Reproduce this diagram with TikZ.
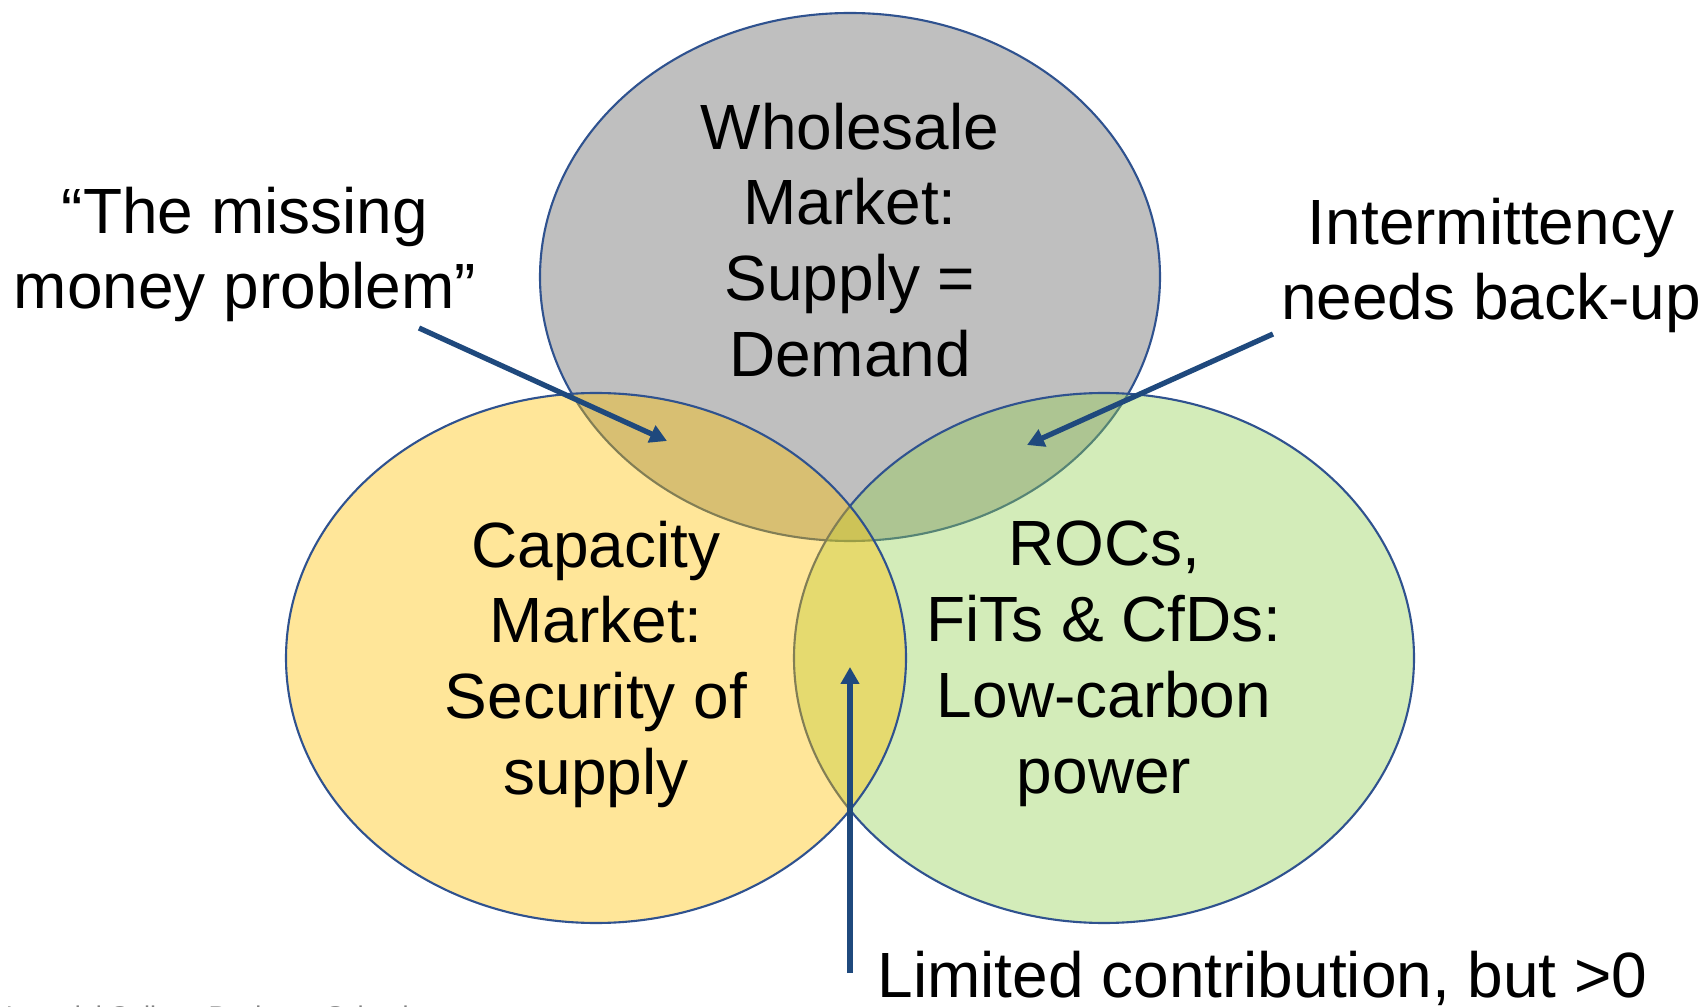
\documentclass[tikz,border=0pt]{standalone}
\usepackage{fontspec}
\setmainfont{Liberation Sans}
\usetikzlibrary{arrows.meta}

\definecolor{wsgray}{HTML}{BFBFBF}
\definecolor{cmyellow}{HTML}{FFC000}
\definecolor{rogreen}{HTML}{92D050}
\definecolor{rimblue}{HTML}{2F528F}
\definecolor{arrblue}{HTML}{1F497D}

\begin{document}
\begin{tikzpicture}[x=0.1mm, y=-0.1mm,
    every node/.style={font=\fontsize{18.2}{21.6}\selectfont, align=center, inner sep=0pt},
    rim/.style={draw=rimblue, line width=0.6pt},
    pointer/.style={draw=arrblue, line width=1.5pt, -{Triangle[length=1.7mm, width=1.8mm]}}]
    \useasboundingbox (0,0) rectangle (1704,1007);
    % the three markets, green and yellow see-through
    \draw[rim, fill=wsgray] (850,277) ellipse [x radius=31mm, y radius=26.4mm];
    \draw[rim, fill=rogreen, fill opacity=0.4] (1104,658) ellipse [x radius=31mm, y radius=26.5mm];
    \draw[rim, fill=cmyellow, fill opacity=0.4] (596,658) ellipse [x radius=31mm, y radius=26.5mm];

    \node[anchor=north] (whole) at (850,102) {Wholesale\\Market:\\Supply =\\Demand};
    \node[anchor=north] (capac) at (596,520) {Capacity\\Market:\\Security of\\supply};
    \node[anchor=north] (rocs) at (1104,520) {ROCs,\\FiTs \& CfDs:\\Low-carbon\\power};

    % call-outs
    \node[anchor=north] (missing) at (245,186) {“The missing\\money problem”};
    \node[anchor=north] (intermit) at (1491,197) {Intermittency\\needs back-up};
    \node[anchor=base west] (limited) at (877,997) {Limited contribution, but >0};

    \coordinate (m0) at (419,328);
    \coordinate (m1) at (667,441);
    \coordinate (i0) at (1273,334);
    \coordinate (i1) at (1027,445);
    \coordinate (l0) at (850,973);
    \coordinate (l1) at (850,667);
    \draw[pointer] (m0) -- (m1);
    \draw[pointer] (i0) -- (i1);
    \draw[pointer] (l0) -- (l1);

    \begin{scope}
        \clip (0,0) rectangle (1704,1007);
        \node[anchor=base west, font=\fontsize{7.7}{9}\selectfont, text=gray] (footer) at (5,1025) {Imperial College Business School};
    \end{scope}
\end{tikzpicture}
\end{document}
